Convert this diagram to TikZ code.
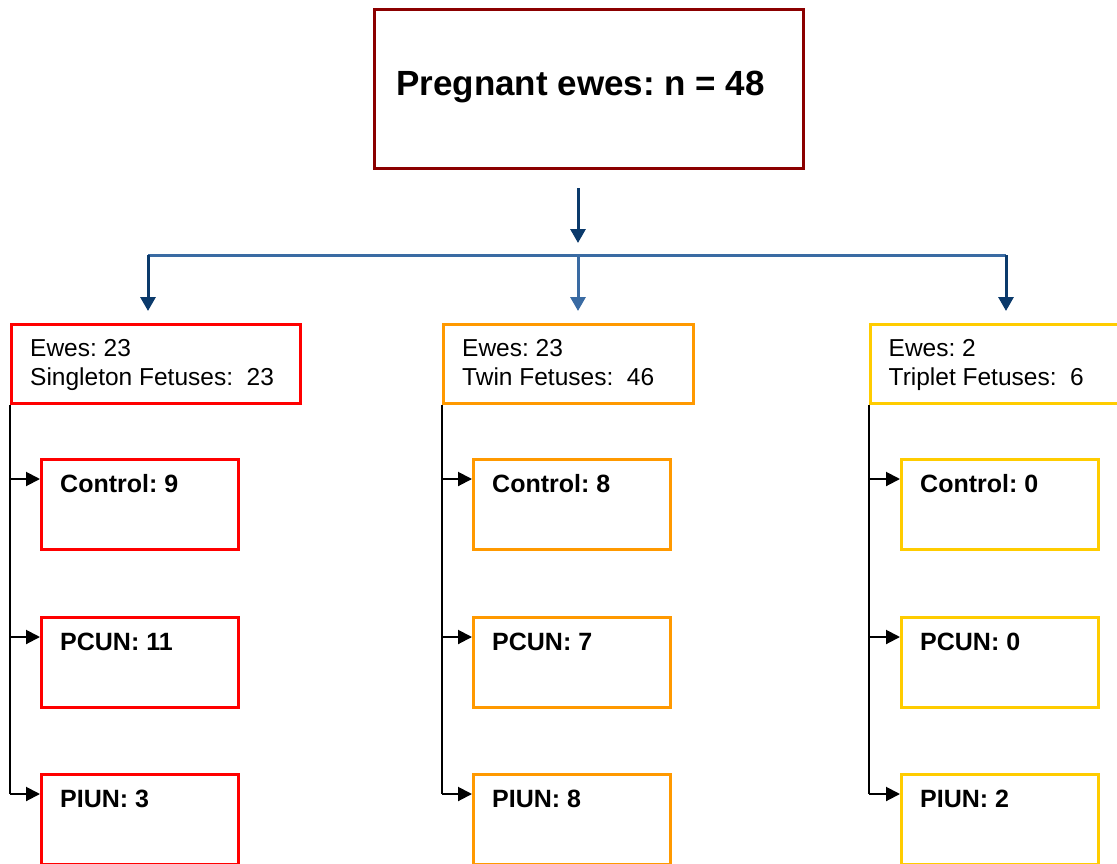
\documentclass[tikz,border=0pt]{standalone}
\usepackage{fontspec}
\setmainfont{Liberation Sans}
\usetikzlibrary{arrows.meta}
\definecolor{topred}{HTML}{8B0000}
\definecolor{navy}{HTML}{0B3A6B}
\definecolor{steel}{HTML}{3A6BA3}
\definecolor{sred}{HTML}{FF0000}
\definecolor{sorange}{HTML}{FF9900}
\definecolor{sgold}{HTML}{FFCC00}
\frenchspacing
\begin{document}
\begin{tikzpicture}[x=1pt,y=-1pt,
  boxbase/.style={draw, line width=3pt, fill=white, inner sep=0pt},
  grpbox/.style={boxbase, minimum width=#1, minimum height=79pt},
  subbox/.style={boxbase, minimum width=197pt, minimum height=90pt},
  navyarrow/.style={draw=navy, line width=3pt, -{Triangle[length=14pt,width=15pt]}},
  steelarrow/.style={draw=steel, line width=3pt, -{Triangle[length=14pt,width=15pt]}},
  conn/.style={draw=black, line width=2pt, -{Triangle[length=14pt,width=14pt]}},
  reg/.style={anchor=base west, inner sep=0pt, font=\fontsize{24.5}{29}\selectfont},
  bld/.style={anchor=base west, inner sep=0pt, font=\bfseries\fontsize{25}{30}\selectfont},
]
\useasboundingbox (0,0) rectangle (1117,863);
\clip (0,0) rectangle (1117,863);

% top box
\node[boxbase, draw=topred, minimum width=429pt, minimum height=159pt] (top) at (589,89) {};
\node[anchor=base west, inner sep=0pt, font=\bfseries\fontsize{35}{42}\selectfont] (toptext) at (396,95) {Pregnant ewes: n = 48};

% group boxes
\node[grpbox=289pt, draw=sred] (g1) at (156,364) {};
\node[grpbox=250pt, draw=sorange] (g2) at (568.5,364) {};
\node[grpbox=250pt, draw=sgold] (g3) at (995,364) {};

\node[reg] (g1a) at ([xshift=20pt,yshift=-33pt]g1.north west) {Ewes: 23};
\node[reg] (g1b) at ([xshift=20pt,yshift=-62pt]g1.north west) {Singleton Fetuses:\ \ 23};
\node[reg] (g2a) at ([xshift=20pt,yshift=-33pt]g2.north west) {Ewes: 23};
\node[reg] (g2b) at ([xshift=20pt,yshift=-62pt]g2.north west) {Twin Fetuses:\ \ 46};
\node[reg] (g3a) at ([xshift=20pt,yshift=-33pt]g3.north west) {Ewes: 2};
\node[reg] (g3b) at ([xshift=20pt,yshift=-62pt]g3.north west) {Triplet Fetuses:\ \ 6};

% sub boxes
\node[subbox, draw=sred] (c1) at (140,504.5) {};
\node[subbox, draw=sred] (p1) at (140,662.5) {};
\node[subbox, draw=sred] (i1) at (140,819.5) {};
\node[subbox, draw=sorange] (c2) at (572,504.5) {};
\node[subbox, draw=sorange] (p2) at (572,662.5) {};
\node[subbox, draw=sorange] (i2) at (572,819.5) {};
\node[subbox, draw=sgold] (c3) at (1000,504.5) {};
\node[subbox, draw=sgold] (p3) at (1000,662.5) {};
\node[subbox, draw=sgold] (i3) at (1000,819.5) {};

\foreach \b/\t in {c1/Control: 9, p1/PCUN: 11, i1/PIUN: 3,
                   c2/Control: 8, p2/PCUN: 7, i2/PIUN: 8,
                   c3/Control: 0, p3/PCUN: 0, i3/PIUN: 2}{
  \node[bld] (\b t) at ([xshift=20pt,yshift=-34.5pt]\b.north west) {\t};
  \coordinate (\b e) at ([yshift=-21pt]\b.north west);
}

% top connectors
\coordinate (a0) at (578,188);
\coordinate (a1) at (578,243);
\coordinate (hL) at (148,255);
\coordinate (hM) at (578,255);
\coordinate (hR) at (1006,255);
\draw[navyarrow] (a0) -- (a1);
\draw[draw=steel, line width=3pt] (hL) -- (hR);
\draw[navyarrow] (hL) -- (hL |- 0,311);
\draw[steelarrow] (hM) -- (hM |- 0,311);
\draw[navyarrow] (hR) -- (hR |- 0,311);

% column connectors
\foreach \g/\c/\p/\i in {g1/c1/p1/i1, g2/c2/p2/i2, g3/c3/p3/i3}{
  \draw[draw=black, line width=2pt] (\g.south west) -- (\g.south west |- \i e);
  \draw[conn] (\g.south west |- \c e) -- (\c e);
  \draw[conn] (\g.south west |- \p e) -- (\p e);
  \draw[conn] (\g.south west |- \i e) -- (\i e);
}
\end{tikzpicture}
\end{document}
